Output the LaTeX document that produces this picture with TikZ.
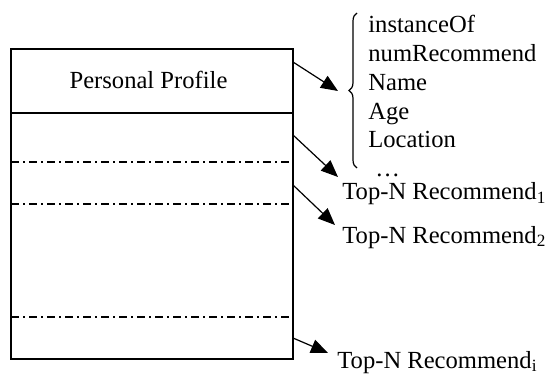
\documentclass[tikz,border=0pt]{standalone}
\usepackage{fontspec}
\setmainfont{Liberation Serif}
\usetikzlibrary{arrows.meta,decorations.pathreplacing}

\tikzset{
  every node/.style={font=\fontsize{12.3}{14}\selectfont},
  field/.style={anchor=base west,inner sep=0pt},
  sepline/.style={dash pattern=on 4pt off 2pt on 1pt off 2pt,line width=0.65pt},
  link/.style={-{Triangle[length=8.5pt,width=7pt]},line width=0.6pt},
}

\begin{document}
\begin{tikzpicture}[x=0.5pt,y=-0.5pt]
\useasboundingbox (0,0) rectangle (547,374);
% profile box
\draw[line width=0.85pt] (11,49) rectangle (293,359);
\draw[line width=0.85pt] (11,113) -- (293,113);
\draw[sepline] (11,162) -- (293,162);
\draw[sepline] (11,204) -- (293,204);
\draw[sepline] (11,317) -- (293,317);
\node[anchor=base,inner sep=0pt] (title) at (148.5,89) {Personal Profile};
% attributes
\node[field] (inst) at (368,33) {instanceOf};
\node[field] (num) at (368,61.7) {numRecommend};
\node[field] (name) at (368,90.4) {Name};
\node[field] (age) at (368,119.1) {Age};
\node[field] (loc) at (368,147.8) {Location};
\node[field] (more) at (375,176.5) {\dots};
\draw[decorate,decoration={brace,amplitude=4pt},line width=0.6pt] (357,168) -- (357,13);
% recommendation lists
\node[field] (rec1) at (342,200) {Top-N Recommend\textsubscript{1}};
\node[field] (rec2) at (342,243) {Top-N Recommend\textsubscript{2}};
\node[field] (reci) at (337,368) {Top-N Recommend\textsubscript{i}};
% arrows
\coordinate (s1) at (293,62);
\coordinate (t1) at (338,91);
\coordinate (s2) at (293,135);
\coordinate (t2) at (338,177);
\coordinate (s3) at (293,185);
\coordinate (t3) at (335,225);
\coordinate (s4) at (293,338);
\coordinate (t4) at (328,353);
\draw[link] (s1) -- (t1);
\draw[link] (s2) -- (t2);
\draw[link] (s3) -- (t3);
\draw[link] (s4) -- (t4);
\end{tikzpicture}
\end{document}
